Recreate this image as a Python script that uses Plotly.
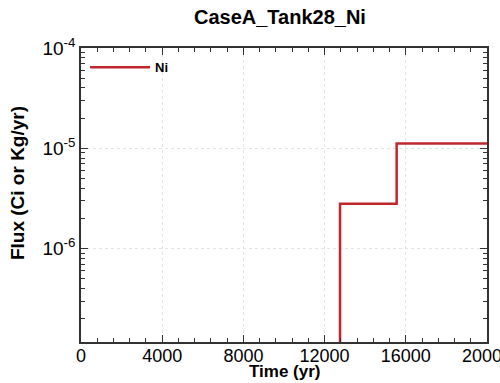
import plotly.graph_objects as go

# Data
time_yr = [0, 12760, 15550, 20000]
flux_ni = [1e-10, 2.8e-6, 1.12e-5, 1.12e-5]
series_name = "Ni"
x_ticks = [0, 4000, 8000, 12000, 16000, 20000]
x_tick_text = ["0", "4000", "8000", "12000", "16000", "20000"]
x_minor = list(range(0, 20001, 800))
y_ticks = [1e-6, 1e-5, 1e-4]
y_tick_text = ["10<sup>-6</sup>", "10<sup>-5</sup>", "10<sup>-4</sup>"]
y_minor = [m * 10**e for e in (-7, -6, -5) for m in range(2, 10)]

fig = go.Figure()
fig.add_trace(go.Scatter(
    x=time_yr, y=flux_ni, mode="lines", name="<b>" + series_name + "</b>",
    line=dict(color="#c0272d", width=2.5, shape="hv"),
))

font_family = "Liberation Sans, Arial, sans-serif"
fig.update_layout(
    width=500, height=383,
    margin=dict(l=81, r=13, t=48, b=41, autoexpand=False),
    paper_bgcolor="white", plot_bgcolor="white",
    title=dict(text="<b>CaseA_Tank28_Ni</b>", xref="paper", x=0.49, xanchor="center",
               yref="container", y=0.955, yanchor="middle",
               font=dict(family=font_family, size=20, color="black")),
    font=dict(family=font_family, color="black"),
    showlegend=True,
    legend=dict(x=0.01, y=0.985, xanchor="left", yanchor="top",
                bgcolor="rgba(0,0,0,0)", font=dict(size=13, family=font_family),
                itemwidth=60, tracegroupgap=0),
)

fig.add_annotation(
    text="<b>Flux (Ci or Kg/yr)</b>", textangle=-90,
    xref="paper", yref="paper", x=-0.158, y=0.54,
    xanchor="center", yanchor="middle", showarrow=False,
    font=dict(size=19, family=font_family, color="black"),
)
fig.add_annotation(
    text="<b>Time (yr)</b>",
    xref="paper", yref="paper", x=0.502, y=-0.1,
    xanchor="center", yanchor="middle", showarrow=False,
    font=dict(size=17, family=font_family, color="black"),
)

fig.update_xaxes(
    range=[0, 20000], tickvals=x_ticks, ticktext=x_tick_text,
    showline=True, linecolor="#333", linewidth=1.5, mirror="ticks",
    ticks="inside", ticklen=7, tickwidth=1.2, tickcolor="#333",
    tickfont=dict(size=18, family=font_family), ticklabeloverflow="allow",
    ticklabelstandoff=-3,
    showgrid=True, gridcolor="#e4e4e4", griddash="dot", gridwidth=1,
    minor=dict(tickvals=x_minor, ticks="inside", ticklen=4, tickwidth=1, tickcolor="#333", showgrid=False),
    zeroline=False, automargin=False,
)
fig.update_yaxes(
    type="log", range=[-6.93, -4], tickvals=y_ticks, ticktext=y_tick_text,
    showline=True, linecolor="#333", linewidth=1.5, mirror="ticks",
    ticks="inside", ticklen=7, tickwidth=1.2, tickcolor="#333",
    tickfont=dict(size=19, family=font_family), ticklabeloverflow="allow",
    showgrid=True, gridcolor="#e4e4e4", griddash="dot", gridwidth=1,
    minor=dict(tickvals=y_minor, ticks="inside", ticklen=4, tickwidth=1, tickcolor="#333", showgrid=False),
    zeroline=False, automargin=False,
)

fig.write_html("out.html", config={"displayModeBar": False},
               post_script="document.body.style.margin='0';")
